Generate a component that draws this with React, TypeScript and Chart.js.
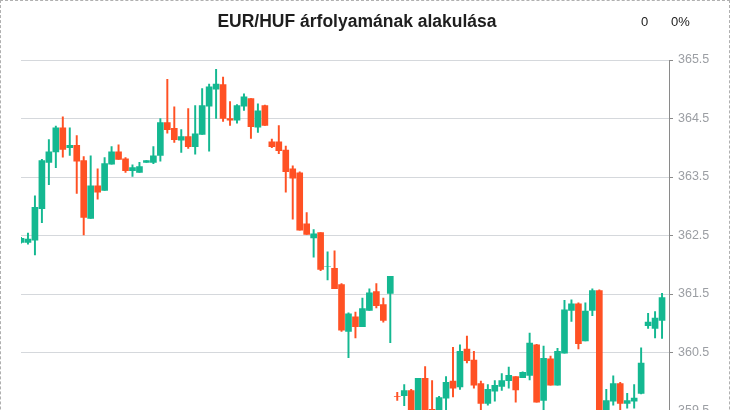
import React, { useEffect, useRef } from "react";
import { Chart, registerables } from "chart.js";

Chart.register(...registerables);

const titleText = "EUR/HUF árfolyamának alakulása";
const changeValue = "0";
const changePercent = "0%";

const yTicks = [358.5, 359.5, 360.5, 361.5, 362.5, 363.5, 364.5, 365.5];

const opens = [
  362.38, 362.38, 362.42, 362.96, 363.75, 363.93, 364.34, 364.0, 364.04, 363.78,
  362.79, 363.35, 363.27, 363.72, 363.93, 363.81, 363.61, 363.58, 363.75, 363.75,
  363.87, 364.43, 364.33, 364.13, 364.19, 364.02, 364.23, 364.71, 365.0, 365.08,
  364.5, 364.47, 364.71, 364.84, 364.35, 364.72, 364.1, 364.1, 363.96, 363.64,
  363.57, 362.7, 362.46, 362.55, 361.97, 361.94, 361.66, 360.86, 361.11, 360.94,
  361.22, 361.54, 361.32, 361.51, 359.75, 359.76, 359.85, 359.3, 360.06, 359.53,
  359.42, 359.72, 360.01, 359.91, 360.56, 360.37, 359.97, 359.63, 359.84, 359.92,
  360.02, 360.09, 360.07, 360.11, 360.63, 359.68, 360.39, 359.94, 360.49, 361.22,
  361.33, 360.7, 361.22, 361.56, 359.35, 359.67, 359.97, 359.63, 359.67, 359.8,
  360.96, 360.91, 361.05,
];
const highs = [
  362.47, 362.54, 363.18, 363.8, 364.14, 364.37, 364.53, 364.34, 364.21, 363.85,
  363.86, 363.64, 363.83, 364.02, 364.05, 363.83, 363.71, 363.75, 363.78, 364.02,
  364.5, 365.17, 364.7, 364.31, 364.67, 364.72, 365.01, 365.09, 365.34, 365.21,
  364.79, 364.74, 364.92, 364.84, 364.75, 364.73, 364.15, 364.38, 364.03, 363.69,
  363.59, 362.89, 362.6, 362.55, 362.22, 362.24, 361.68, 361.18, 361.19, 361.43,
  361.59, 361.68, 361.43, 361.8, 359.82, 359.95, 359.87, 360.06, 360.26, 360.02,
  359.75, 360.09, 360.59, 360.63, 360.78, 360.52, 360.01, 359.95, 360.02, 360.14,
  360.25, 360.09, 360.17, 360.83, 360.64, 360.61, 360.44, 360.57, 361.39, 361.4,
  361.35, 361.35, 361.59, 361.57, 359.87, 360.1, 359.99, 359.8, 359.95, 360.58,
  361.17, 361.2, 361.51,
];
const lows = [
  362.37, 362.35, 362.17, 362.72, 363.37, 363.66, 363.84, 363.87, 363.22, 362.51,
  362.79, 363.12, 363.27, 363.72, 363.8, 363.58, 363.51, 363.58, 363.75, 363.73,
  363.77, 364.25, 364.09, 363.92, 363.99, 363.89, 364.23, 363.94, 364.5, 364.45,
  364.38, 364.42, 364.64, 364.16, 364.26, 364.38, 364.0, 363.9, 363.24, 362.78,
  362.59, 362.52, 362.13, 361.9, 361.74, 361.59, 360.86, 360.41, 360.75, 360.94,
  361.22, 361.26, 361.02, 360.67, 359.68, 359.59, 359.25, 359.25, 359.35, 359.38,
  359.38, 359.45, 359.74, 359.87, 360.32, 359.89, 359.45, 359.6, 359.67, 359.85,
  359.89, 359.65, 360.07, 360.03, 359.65, 359.45, 359.94, 359.94, 360.49, 361.03,
  360.56, 360.7, 361.13, 359.2, 359.3, 359.6, 359.45, 359.55, 359.55, 359.79,
  360.91, 360.75, 360.74,
];
const closes = [
  362.45, 362.44, 362.98, 363.78, 363.93, 364.34, 363.97, 364.04, 363.77, 362.81,
  363.35, 363.24, 363.73, 363.93, 363.8, 363.61, 363.66, 363.68, 363.78, 363.86,
  364.43, 364.31, 364.14, 364.19, 364.02, 364.24, 364.72, 365.04, 365.09, 364.5,
  364.47, 364.72, 364.87, 364.36, 364.63, 364.38, 364.02, 363.95, 363.59, 363.48,
  362.59, 362.52, 362.53, 361.92, 361.97, 361.59, 360.88, 361.16, 360.94, 361.25,
  361.52, 361.3, 361.05, 361.8, 359.75, 359.85, 359.3, 360.06, 359.4, 359.42,
  359.73, 359.99, 359.89, 360.52, 360.36, 359.94, 359.63, 359.87, 359.94, 360.02,
  360.11, 359.86, 360.16, 360.66, 359.65, 360.4, 359.94, 360.52, 361.23, 361.33,
  360.65, 361.21, 361.56, 359.3, 359.68, 359.97, 359.63, 359.68, 359.72, 360.32,
  361.02, 361.09, 361.44,
];

const UP = "#14B891";
const DOWN = "#FF5124";

export default function App() {
  const ref = useRef<HTMLCanvasElement>(null);

  useEffect(() => {
    const canvas = ref.current;
    if (!canvas) return;
    const n = opens.length;
    const labels = Array.from({ length: n + 1 }, (_, i) => String(i));
    const bodies = opens.map((o, i) => [Math.min(o, closes[i]), Math.max(o, closes[i])]);
    const wicks = lows.map((l, i) => [l, highs[i]]);
    const colors = opens.map((o, i) => {
      const c = closes[i];
      if (c > o) return UP;
      if (c < o) return DOWN;
      const prev = i > 0 ? closes[i - 1] : o;
      return c >= prev ? UP : DOWN;
    });

    const chart = new Chart(canvas, {
      type: "bar",
      data: {
        labels,
        datasets: [
          {
            data: bodies as any,
            backgroundColor: colors,
            borderWidth: 0,
            barThickness: 6,
            grouped: false,
            clip: 0,
          } as any,
          {
            data: wicks as any,
            backgroundColor: colors,
            borderWidth: 0,
            barThickness: 1.3,
            grouped: false,
            clip: 0,
          } as any,
        ],
      },
      options: {
        animation: false,
        responsive: false,
        maintainAspectRatio: false,
        layout: { padding: { left: 21, right: 0, top: 60, bottom: 30.5 } },
        plugins: {
          legend: { display: false },
          tooltip: { enabled: false },
          title: { display: false },
        },
        scales: {
          x: {
            type: "category",
            offset: false,
            display: false,
            grid: { display: false },
          },
          y: {
            position: "right",
            min: yTicks[0],
            max: yTicks[yTicks.length - 1],
            afterBuildTicks: (scale: any) => {
              scale.ticks = yTicks.map((v) => ({ value: v }));
            },
            afterFit: (scale: any) => {
              scale.width = 61;
            },
            grid: {
              color: "#d5d8dc",
              lineWidth: 1,
              drawTicks: true,
              tickLength: 4,
              tickColor: "#8a8a8a",
            },
            border: { display: true, color: "#8a8a8a", width: 1 },
            ticks: {
              padding: 5,
              color: "#9b9ea3",
              font: { family: '"Liberation Sans", Arial, sans-serif', size: 12.5 },
              callback: (v: any) => Number(v).toFixed(1),
            },
          },
        },
      },
    });
    return () => chart.destroy();
  }, []);

  return (
    <div
      style={{
        position: "absolute",
        left: 0,
        top: 0,
        width: 730,
        height: 410,
        overflow: "hidden",
        background: "#fff",
        fontFamily: '"Liberation Sans", Arial, sans-serif',
      }}
    >
      <div
        style={{
          position: "absolute",
          left: 0,
          top: 0,
          width: 730,
          height: 560,
          boxSizing: "border-box",
          border: "1px dashed #b0b0b0",
        }}
      />
      <canvas
        ref={ref}
        width={730}
        height={500}
        style={{ position: "absolute", left: 0, top: 0, width: 730, height: 500 }}
      />
      <div
        style={{
          position: "absolute",
          left: 0,
          top: 12.5,
          width: 714,
          textAlign: "center",
          fontWeight: "bold",
          fontSize: 17.5,
          lineHeight: 1,
          color: "#1e1e1e",
          whiteSpace: "nowrap",
        }}
      >
        {titleText}
      </div>
      <div
        style={{
          position: "absolute",
          left: 641,
          top: 14.7,
          fontSize: 13,
          lineHeight: 1,
          color: "#222",
        }}
      >
        {changeValue}
      </div>
      <div
        style={{
          position: "absolute",
          left: 671,
          top: 14.7,
          fontSize: 13,
          lineHeight: 1,
          color: "#222",
        }}
      >
        {changePercent}
      </div>
    </div>
  );
}
